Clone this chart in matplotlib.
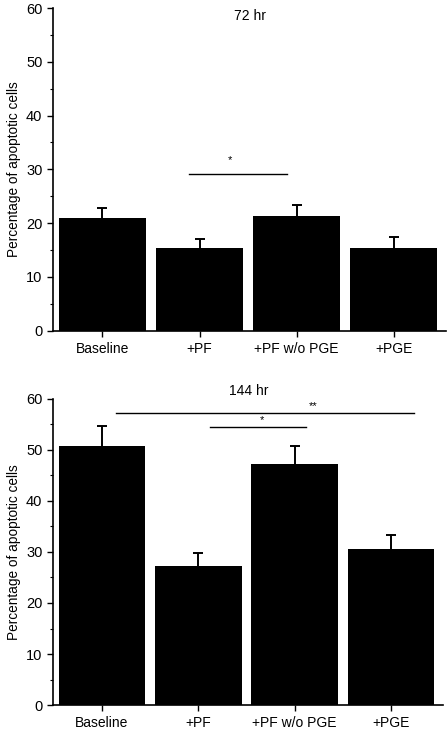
import numpy as np
import matplotlib.pyplot as plt
from matplotlib.ticker import MultipleLocator

plt.rcParams['font.family'] = ['Liberation Sans', 'DejaVu Sans']

groups = ['Baseline', '+PF', '+PF w/o PGE', '+PGE']

# 72 hr panel
vals_72 = [20.9, 15.4, 21.4, 15.4]
err_72 = [2.0, 1.7, 1.9, 2.0]

# 144 hr panel
vals_144 = [50.7, 27.3, 47.1, 30.5]
err_144 = [3.9, 2.5, 3.6, 2.8]


def draw_panel(ax, vals, errs, title, title_y):
    x = np.arange(len(groups))
    vals = np.array(vals)
    tops = vals + np.array(errs)
    ax.bar(x, vals, width=0.9, color='black', edgecolor='none')
    # upper-only error bars: stem plus cap
    ax.vlines(x, vals - 0.5, tops, color='black', lw=1.4)
    ax.plot(x, tops, ls='none', marker='_', ms=7, mew=1.4, color='black')
    ax.set_ylim(0, 60)
    ax.set_xlim(-0.51, 3.54)
    ax.set_xticks(x)
    ax.set_xticklabels(groups, fontsize=10)
    ax.yaxis.set_major_locator(MultipleLocator(10))
    ax.yaxis.set_minor_locator(MultipleLocator(5))
    ax.tick_params(axis='y', which='major', labelsize=10.5, length=4, width=1)
    ax.tick_params(axis='y', which='minor', length=2.5, width=0.8)
    ax.tick_params(axis='x', length=4, width=1, pad=4)
    ax.spines['top'].set_visible(False)
    ax.spines['right'].set_visible(False)
    ax.spines['left'].set_linewidth(1.2)
    ax.spines['bottom'].set_linewidth(1.2)
    ax.set_ylabel('Percentage of apoptotic cells', fontsize=9.8, labelpad=4)
    ax.text(1.52, title_y, title, ha='center', va='center', fontsize=10,
            clip_on=False)


fig = plt.figure(figsize=(4.48, 7.30), dpi=100)
ax1 = fig.add_axes([0.118, 0.547, 0.878, 0.442])
ax2 = fig.add_axes([0.118, 0.034, 0.871, 0.420])

draw_panel(ax1, vals_72, err_72, '72 hr', 58.6)
ax1.plot([0.89, 1.90], [29.2, 29.2], color='black', lw=1)
ax1.text(1.31, 31.8, '*', ha='center', va='center', fontsize=8)

draw_panel(ax2, vals_144, err_144, '144 hr', 61.5)
ax2.plot([0.15, 3.24], [57.2, 57.2], color='black', lw=1, clip_on=False)
ax2.text(2.19, 57.6, '**', ha='center', va='bottom', fontsize=8)
ax2.plot([1.12, 2.12], [54.4, 54.4], color='black', lw=1)
ax2.text(1.66, 54.8, '*', ha='center', va='bottom', fontsize=8)

fig.savefig('out.png', dpi=100)
